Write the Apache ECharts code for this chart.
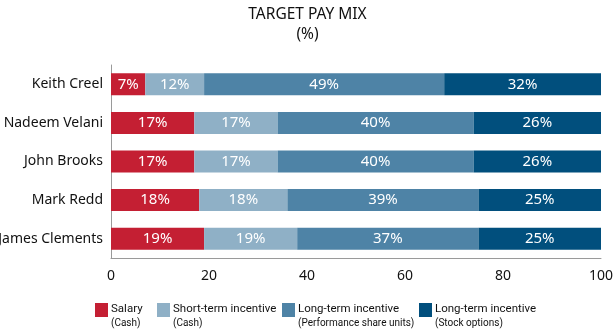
<!DOCTYPE html>
<html><head><meta charset="utf-8">
<script src="https://cdn.jsdelivr.net/npm/echarts@6/dist/echarts.min.js"></script>
<style>html,body{margin:0;padding:0;background:#fff}#c{width:615px;height:329px}</style>
</head><body><div id="c"></div>
<script>
const names = ['Keith Creel', 'Nadeem Velani', 'John Brooks', 'Mark Redd', 'James Clements'];
const salary = [7, 17, 17, 18, 19];
const shortTerm = [12, 17, 17, 18, 19];
const longPerf = [49, 40, 40, 39, 37];
const longStock = [32, 26, 26, 25, 25];
const seriesNames = ['Salary', 'Short-term incentive', 'Long-term incentive ', 'Long-term incentive'];
const seriesSubs = ['(Cash)', '(Cash)', '(Performance share units)', '(Stock options)'];
const colors = ['#C41F33', '#8FB0C6', '#4E83A6', '#014F7D'];
const xTicks = [0, 20, 40, 60, 80, 100];
const legendLefts = [95, 157, 282, 419];

const font = 'Noto Sans';
const legFont = 'Roboto';
const chart = echarts.init(document.getElementById('c'));
const datasets = [salary, shortTerm, longPerf, longStock];
const subMap = {};
seriesNames.forEach((n, i) => subMap[n] = seriesSubs[i]);

chart.setOption({
  animation: false,
  title: {
    text: 'TARGET PAY MIX\n(%)',
    left: 'center', top: 0,
    textStyle: {fontFamily: font, fontWeight: 'normal', fontSize: 15.5, color: '#111', lineHeight: 20}
  },
  grid: {left: 111, right: 14, top: 65, bottom: 71, containLabel: false, outerBoundsMode: 'none'},
  legend: seriesNames.map((n, i) => ({
    left: legendLefts[i], top: 303, itemWidth: 13, itemHeight: 14, itemGap: 0,
    icon: 'rect', padding: 0,
    data: [n],
    formatter: nm => '{a|' + nm.trim() + '}\n{b|' + subMap[nm] + '}',
    textStyle: {
      fontFamily: legFont, color: '#111', padding: [12, 0, 0, -2],
      rich: {
        a: {fontFamily: legFont, fontSize: 11.5, lineHeight: 14, color: '#111'},
        b: {fontFamily: legFont, fontSize: 10, lineHeight: 14, color: '#111'}
      }
    }
  })),
  xAxis: {
    type: 'value', min: 0, max: 100, interval: 20,
    axisLine: {show: true, lineStyle: {color: '#9a9a9a', width: 1}},
    axisTick: {show: false},
    splitLine: {show: false},
    axisLabel: {fontFamily: font, fontSize: 14, color: '#111', margin: 11,
      formatter: v => xTicks.includes(v) ? String(v) : ''}
  },
  yAxis: {
    type: 'category', data: names, inverse: true,
    axisLine: {show: true, lineStyle: {color: '#9a9a9a', width: 1}},
    axisTick: {show: false},
    axisLabel: {fontFamily: font, fontSize: 14, color: '#111', margin: 8}
  },
  series: datasets.map((d, i) => ({
    name: seriesNames[i], type: 'bar', stack: 'total', barWidth: 22,
    itemStyle: {color: colors[i]},
    label: {show: true, position: 'inside', formatter: '{c}%', color: '#fff',
      fontFamily: font, fontSize: 15},
    data: d
  }))
});
</script></body></html>
